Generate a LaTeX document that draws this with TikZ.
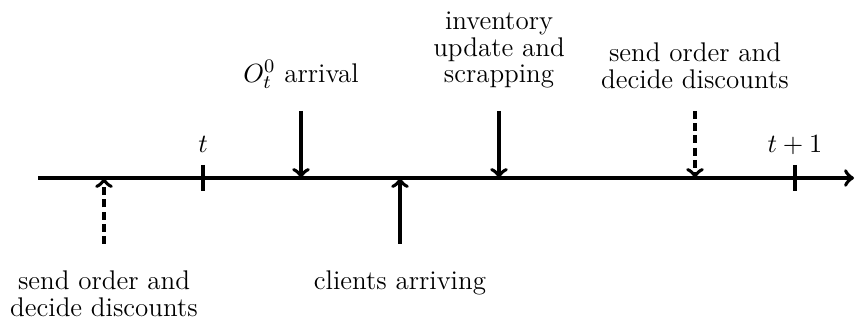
\documentclass[tikz,border=0pt]{standalone}
\begin{document}
\begin{tikzpicture}[x=0.41667pt,y=-0.41667pt,
  axis/.style={line width=1.6pt,->},
  ev/.style={line width=1.6pt,->},
  evd/.style={line width=1.6pt,->,dash pattern=on 3.3pt off 1.8pt},
  tick/.style={line width=1.6pt},
  lab/.style={align=center,inner sep=0pt,font=\fontsize{11.25pt}{11.2pt}\selectfont}]
\useasboundingbox (0,0) rectangle (856,323);
% axis
\coordinate (A0) at (38,178);
\coordinate (A1) at (854,178);
\draw[axis] (A0) -- (A1);
% ticks
\coordinate (t0a) at (203,165); \coordinate (t0b) at (203,191);
\coordinate (t1a) at (795,165); \coordinate (t1b) at (795,191);
\draw[tick] (t0a) -- (t0b);
\draw[tick] (t1a) -- (t1b);
\node[lab,anchor=base] (lt) at (203,153) {$t$};
\node[lab,anchor=base] (lt1) at (795,153) {$t+1$};
% events
\coordinate (e1s) at (104,244); \coordinate (e1e) at (104,178);
\coordinate (e2s) at (301,111); \coordinate (e2e) at (301,178);
\coordinate (e3s) at (400,244); \coordinate (e3e) at (400,178);
\coordinate (e4s) at (499,111); \coordinate (e4e) at (499,178);
\coordinate (e5s) at (695,111); \coordinate (e5e) at (695,178);
\draw[evd] (e1s) -- (e1e);
\draw[ev] (e2s) -- (e2e);
\draw[ev] (e3s) -- (e3e);
\draw[ev] (e4s) -- (e4e);
\draw[evd] (e5s) -- (e5e);
% labels
\node[lab,anchor=north] (l1) at (104,270) {send order and\\decide discounts};
\node[lab,anchor=south] (l2) at (301,89) {$O_t^0$ arrival};
\node[lab,anchor=north] (l3) at (400,270) {clients arriving};
\node[lab,anchor=south] (l4) at (499,89) {inventory\\update and\\scrapping};
\node[lab,anchor=south] (l5) at (695,89) {send order and\\decide discounts};
\end{tikzpicture}
\end{document}
